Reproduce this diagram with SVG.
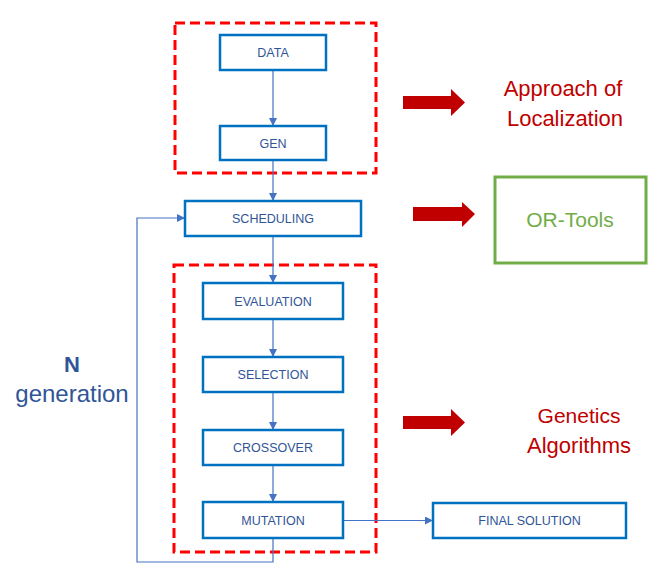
<svg xmlns="http://www.w3.org/2000/svg" width="667" height="578" viewBox="0 0 667 578">
<style>
.node rect{fill:#fff;stroke:#0070C0;stroke-width:2.5}
.node text{font-family:"Liberation Sans",Arial,sans-serif;font-size:12.5px;fill:#2F5597;text-anchor:middle}
.grp{fill:none;stroke:#FF0000;stroke-width:3;stroke-dasharray:10 5}
.conn{fill:none;stroke:#4472C4;stroke-width:1.2}
.big{font-family:"Liberation Sans",Arial,sans-serif;fill:#C00000;text-anchor:middle}
.fat{fill:#C00000}
</style>
<defs>
<marker id="ah" viewBox="0 0 10 10" refX="10" refY="5" markerWidth="8" markerHeight="8" markerUnits="userSpaceOnUse" orient="auto">
<path d="M0,0 L10,5 L0,10 z" fill="#4472C4"/>
</marker>
</defs>
<rect width="667" height="578" fill="#fff"/>
<rect class="grp" x="175" y="23" width="201" height="150"/>
<rect class="grp" x="174" y="265" width="202" height="287"/>
<g id="connectors">
<line class="conn" x1="273" y1="70" x2="273" y2="126" marker-end="url(#ah)"/>
<line class="conn" x1="273" y1="160" x2="273" y2="201" marker-end="url(#ah)"/>
<line class="conn" x1="273" y1="236" x2="273" y2="283" marker-end="url(#ah)"/>
<line class="conn" x1="273" y1="319" x2="273" y2="357" marker-end="url(#ah)"/>
<line class="conn" x1="273" y1="392" x2="273" y2="430" marker-end="url(#ah)"/>
<line class="conn" x1="273" y1="465" x2="273" y2="502" marker-end="url(#ah)"/>
<line class="conn" x1="343" y1="520.5" x2="433" y2="520.5" marker-end="url(#ah)"/>
<polyline class="conn" points="273,538 273,562 137,562 137,218 185,218" marker-end="url(#ah)"/>
</g>
<g id="data" class="node"><rect x="220" y="35" width="106" height="35"/><text x="273" y="57">DATA</text></g>
<g id="gen" class="node"><rect x="220" y="126" width="106" height="34"/><text x="273" y="147.5">GEN</text></g>
<g id="scheduling" class="node"><rect x="185" y="201" width="176" height="35"/><text x="273" y="223">SCHEDULING</text></g>
<g id="evaluation" class="node"><rect x="203" y="283" width="140" height="36"/><text x="273" y="305.5">EVALUATION</text></g>
<g id="selection" class="node"><rect x="203" y="357" width="140" height="35"/><text x="273" y="379">SELECTION</text></g>
<g id="crossover" class="node"><rect x="203" y="430" width="140" height="35"/><text x="273" y="452">CROSSOVER</text></g>
<g id="mutation" class="node"><rect x="203" y="502" width="140" height="36"/><text x="273" y="524.5">MUTATION</text></g>
<g id="final" class="node"><rect x="433" y="503" width="193" height="35"/><text x="529.5" y="525">FINAL SOLUTION</text></g>
<g id="ortools"><rect x="495" y="177" width="151" height="86" fill="#fff" stroke="#70AD47" stroke-width="3"/><text x="570" y="227" font-family="Liberation Sans,Arial,sans-serif" font-size="21" fill="#70AD47" text-anchor="middle">OR-Tools</text></g>
<g id="arrows">
<path class="fat" d="M403,96 L451,96 L451,89 L465,102.5 L451,116 L451,109 L403,109 z"/>
<path class="fat" d="M413,207 L462,207 L462,202 L475,214 L462,227 L462,221 L413,221 z"/>
<path class="fat" d="M403,416 L451,416 L451,409 L465,422.5 L451,436 L451,429 L403,429 z"/>
</g>
<g id="labels">
<text class="big" x="563" y="96" font-size="22">Approach of</text>
<text class="big" x="565" y="126" font-size="22">Localization</text>
<text class="big" x="579" y="423" font-size="21">Genetics</text>
<text class="big" x="579" y="453" font-size="22">Algorithms</text>
<text x="72" y="372" font-family="Liberation Sans,Arial,sans-serif" font-size="22" font-weight="bold" fill="#2F5597" text-anchor="middle">N</text>
<text x="72" y="402" font-family="Liberation Sans,Arial,sans-serif" font-size="24" fill="#2F5597" text-anchor="middle">generation</text>
</g>
</svg>
